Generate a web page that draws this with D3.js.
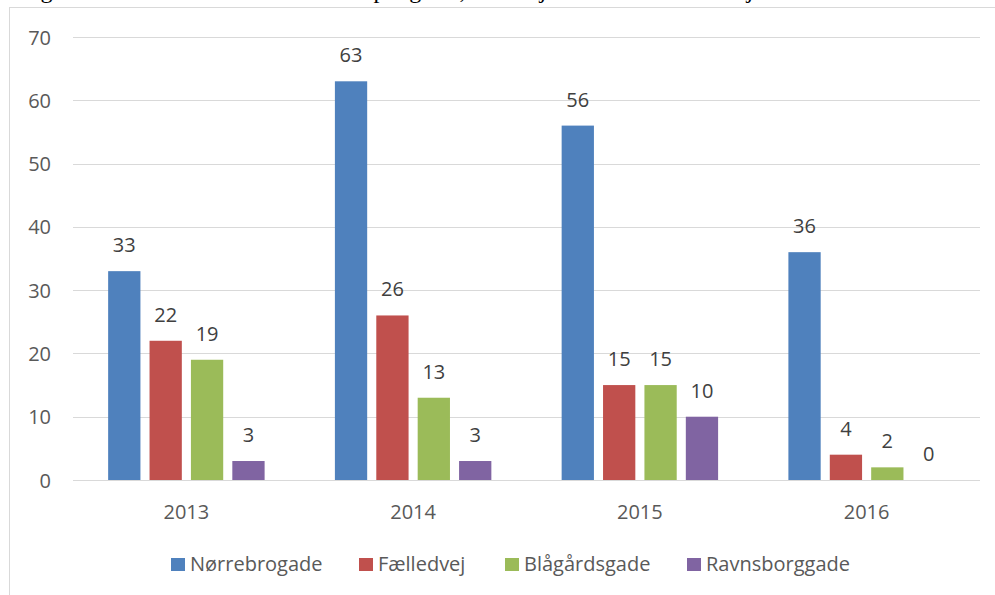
<!DOCTYPE html>
<html><head><meta charset="utf-8">
<script src="https://cdn.jsdelivr.net/npm/d3@7"></script>
<style>html,body{margin:0;padding:0;background:#fff;overflow:hidden}svg{display:block}</style>
</head><body>
<svg id="c" width="995" height="595"></svg>
<script>
const years = ["2013","2014","2015","2016"];
const seriesNames = ["Nørrebrogade","Fælledvej","Blågårdsgade","Ravnsborggade"];
const norrebrogade = [33,63,56,36];
const faelledvej = [22,26,15,4];
const blagardsgade = [19,13,15,2];
const ravnsborggade = [3,3,10,0];
const yTicks = [0,10,20,30,40,50,60,70];
const colors = ["#4F81BD","#C0504D","#9BBB59","#8064A2"];
const titleText = "Figur 3: Antal anmeldte tilfælde pr. gade, fra 1. januar 2013 til 30. juni 2016";

(function(){
const values = [norrebrogade, faelledvej, blagardsgade, ravnsborggade];
const svg = d3.select("#c");
const font = "'Open Sans', sans-serif";
const fs = 20;

// title above the chart, mostly cut off by the top edge as in the reference
svg.append("text").attr("x",18).attr("y",-2).attr("font-family","'Liberation Serif', 'Times New Roman', serif")
  .attr("font-size",24).attr("fill","#000")
  .attr("textLength",830).attr("lengthAdjust","spacing").text(titleText);

svg.append("rect").attr("x",9.5).attr("y",7.5).attr("width",1000).attr("height",600)
  .attr("fill","none").attr("stroke","#D9D9D9").attr("stroke-width",1);

const pl=73, pr=980, pt=37, pb=480;
const y = d3.scaleLinear().domain([0,70]).range([pb,pt]);
const x0 = d3.scaleBand().domain(years).range([pl,pr]).paddingInner(0.31).paddingOuter(0.155);
const x1 = d3.scaleBand().domain(seriesNames).range([0,x0.bandwidth()]).paddingInner(0.22).paddingOuter(0);

svg.append("g").selectAll("line").data(yTicks).join("line")
  .attr("x1",pl).attr("x2",pr)
  .attr("y1",d=>Math.round(y(d))+0.5).attr("y2",d=>Math.round(y(d))+0.5)
  .attr("stroke","#D9D9D9").attr("stroke-width",1);

const yAxis = d3.axisLeft(y).tickValues(yTicks).tickSize(0).tickPadding(0);
const ya = svg.append("g").attr("transform","translate(51,0)").call(yAxis);
ya.select(".domain").remove();
ya.selectAll("text").attr("font-family",font).attr("font-size",fs).attr("fill","#595959").attr("dy","0.35em");

seriesNames.forEach((s,si)=>{
  const g = svg.append("g");
  g.selectAll("rect").data(years).join("rect")
    .attr("x",(d)=>x0(d)+x1(s))
    .attr("y",(d,i)=>y(values[si][i]))
    .attr("width",x1.bandwidth())
    .attr("height",(d,i)=>y(0)-y(values[si][i]))
    .attr("fill",colors[si]);
  g.selectAll("text").data(years).join("text")
    .attr("x",(d)=>x0(d)+x1(s)+x1.bandwidth()/2)
    .attr("y",(d,i)=>y(values[si][i])-26)
    .attr("text-anchor","middle").attr("dy","0.35em")
    .attr("font-family",font).attr("font-size",fs).attr("fill","#404040")
    .text((d,i)=>values[si][i]);
});

const xAxis = d3.axisBottom(x0).tickSize(0).tickPadding(0);
const xa = svg.append("g").attr("transform","translate(0,512)").call(xAxis);
xa.select(".domain").remove();
xa.selectAll("text").attr("font-family",font).attr("font-size",fs).attr("fill","#595959").attr("dy","0.35em");

const legendX = [171,359,505,687];
const lg = svg.append("g");
seriesNames.forEach((s,i)=>{
  lg.append("rect").attr("x",legendX[i]).attr("y",558).attr("width",14).attr("height",13).attr("fill",colors[i]);
  lg.append("text").attr("x",legendX[i]+19).attr("y",564).attr("dy","0.35em")
    .attr("font-family",font).attr("font-size",fs).attr("fill","#595959").text(s);
});
})();
</script>
</body></html>
